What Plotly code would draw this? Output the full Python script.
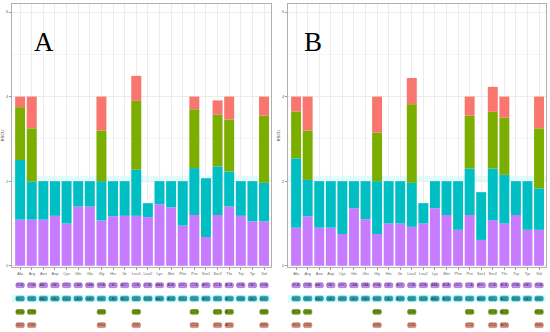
import plotly.graph_objects as go

categories = ["Ala", "Arg", "Asn", "Asp", "Cys", "Gln", "Glu", "Gly", "His", "Ile", "Leu1",
              "Leu2", "Lys", "Met", "Phe", "Pro", "Ser1", "Ser2", "Thr", "Trp", "Tyr", "Val"]

codon1 = ["GCA", "CGA", "AAC", "GAC", "UGC", "CAA", "GAA", "GGA", "CAC", "AUC", "CUA",
          "UUA", "AAA", "AUA", "UUC", "CCA", "AGC", "UCA", "ACA", "UGA", "UAC", "GUA"]
codon2 = ["GCC", "CGC", "AAU", "GAU", "UGU", "CAG", "GAG", "GGC", "CAU", "AUU", "CUC",
          "UUG", "AAG", "AUG", "UUU", "CCC", "AGU", "UCC", "ACC", "UGG", "UAU", "GUC"]
codon3 = ["GCG", "CGG", None, None, None, None, None, "GGG", None, None, "CUG",
          None, None, None, None, "CCG", None, "UCG", "ACG", None, None, "GUG"]
codon4 = ["GCU", "CGU", None, None, None, None, None, "GGU", None, None, "CUU",
          None, None, None, None, "CCU", None, "UCU", "ACU", None, None, "GUU"]

# Panel A RSCU values per codon position (stack order bottom -> top)
a_c1 = [1.09, 1.09, 1.09, 1.18, 1.00, 1.40, 1.40, 1.07, 1.17, 1.18, 1.18,
        1.15, 1.45, 1.38, 0.95, 1.20, 0.68, 1.20, 1.40, 1.18, 1.05, 1.05]
a_c2 = [1.41, 0.90, 0.91, 0.82, 1.00, 0.60, 0.60, 0.93, 0.83, 0.82, 1.09,
        0.33, 0.55, 0.62, 1.05, 1.11, 1.39, 1.15, 0.83, 0.82, 0.95, 0.91]
a_c3 = [1.25, 1.26, None, None, None, None, None, 1.20, None, None, 1.63,
        None, None, None, None, 1.39, None, 1.22, 1.23, None, None, 1.59]
a_c4 = [0.25, 0.75, None, None, None, None, None, 0.80, None, None, 0.59,
        None, None, None, None, 0.30, None, 0.34, 0.54, None, None, 0.45]

# Panel B
b_c1 = [0.90, 1.17, 0.90, 0.90, 0.75, 1.36, 1.10, 0.75, 1.00, 1.00, 0.92,
        1.00, 1.36, 1.20, 0.85, 1.20, 0.61, 1.08, 1.00, 1.20, 0.85, 0.85]
b_c2 = [1.64, 0.86, 1.10, 1.10, 1.25, 0.64, 0.90, 1.25, 1.00, 1.00, 1.04,
        0.48, 0.64, 0.80, 1.15, 1.10, 1.13, 1.22, 1.15, 0.80, 1.15, 0.98]
b_c3 = [1.11, 1.17, None, None, None, None, None, 1.15, None, None, 1.86,
        None, None, None, None, 1.25, None, 1.34, 1.35, None, None, 1.42]
b_c4 = [0.35, 0.80, None, None, None, None, None, 0.85, None, None, 0.62,
        None, None, None, None, 0.45, None, 0.59, 0.50, None, None, 0.75]

colors = ["#C77CFF", "#00BFC4", "#7CAE00", "#F8766D"]
edge = ["#9a5fcf", "#1b8c99", "#5a7f00", "#b8705f"]
box_fill = ["#C98AF5", "#27AFC0", "#74A010", "#E08A70"]

fig = go.Figure()

def add_panel(series, xa, ya, xc, yc):
    base = [0.0] * len(categories)
    for k, vals in enumerate(series):
        xs, ys, bs = [], [], []
        for i, v in enumerate(vals):
            if v is not None:
                xs.append(categories[i]); ys.append(v); bs.append(base[i])
                base[i] += v
        fig.add_trace(go.Bar(x=xs, y=ys, base=bs, width=0.86,
                             marker=dict(color=colors[k], line=dict(width=0)),
                             xaxis=xa, yaxis=ya, showlegend=False))
    codon_rows = [codon1, codon2, codon3, codon4]
    for k, row in enumerate(codon_rows):
        xs = [categories[i] for i, c in enumerate(row) if c is not None]
        tx = [c for c in row if c is not None]
        yv = 4 - k
        fig.add_trace(go.Bar(x=xs, y=[0.36] * len(xs), base=[yv - 0.18] * len(xs),
                             width=0.72, text=tx, textposition="inside",
                             insidetextanchor="middle", constraintext="none",
                             textfont=dict(size=3.2, color="#333333", family="Arial"),
                             marker=dict(color=box_fill[k], line=dict(color=edge[k], width=0.6),
                                         cornerradius=1.5),
                             xaxis=xc, yaxis=yc, showlegend=False))

add_panel([a_c1, a_c2, a_c3, a_c4], "x", "y", "x3", "y3")
add_panel([b_c1, b_c2, b_c3, b_c4], "x2", "y2", "x4", "y4")

xr = [-0.7, 21.6]
xbar = dict(type="category", range=xr, showline=True, mirror=True, linecolor="#b0b0b0",
            linewidth=1, showgrid=True, gridcolor="#ececec", gridwidth=0.6,
            ticks="outside", ticklen=2, tickcolor="#999999", tickangle=0, automargin=False,
            tickfont=dict(size=4, color="#666666", family="Arial"), categoryorder="array",
            categoryarray=categories, zeroline=False)
ybar = dict(range=[-0.03, 6.19], dtick=2, showline=True, mirror=True, linecolor="#b0b0b0",
            linewidth=1, showgrid=True, gridcolor="#ececec", gridwidth=0.6,
            minor=dict(dtick=1, showgrid=True, gridcolor="#f5f5f5", gridwidth=0.4),
            ticks="outside", ticklen=2, tickcolor="#999999", automargin=False,
            tickfont=dict(size=4, color="#666666", family="Arial"), zeroline=False,
            title=dict(text="RSCU", font=dict(size=4, color="#444444", family="Arial"), standoff=1))
xcod = dict(type="category", range=xr, visible=False, categoryorder="array",
            categoryarray=categories, automargin=False)
ycod = dict(range=[0.49, 4.48], visible=False, automargin=False)

dA = [12 / 550, 271 / 550]
dB = [288 / 550, 546 / 550]
ybd = [(332 - 267) / 332, (332 - 4) / 332]
ycd = [0, 0.16]

fig.update_layout(
    width=550, height=332, margin=dict(l=0, r=0, t=0, b=0, autoexpand=False),
    paper_bgcolor="white", plot_bgcolor="white", barmode="overlay",
    xaxis=dict(xbar, domain=dA, anchor="y"),
    yaxis=dict(ybar, domain=ybd, anchor="x"),
    xaxis2=dict(xbar, domain=dB, anchor="y2"),
    yaxis2=dict(ybar, domain=ybd, anchor="x2"),
    xaxis3=dict(xcod, domain=dA, anchor="y3"),
    yaxis3=dict(ycod, domain=ycd, anchor="x3"),
    xaxis4=dict(xcod, domain=dB, anchor="y4"),
    yaxis4=dict(ycod, domain=ycd, anchor="x4"),
    annotations=[
        dict(text="A", x=32 / 550, y=(332 - 25) / 332, xref="paper", yref="paper",
             showarrow=False, font=dict(size=27, family="Liberation Serif", color="black")),
        dict(text="B", x=313 / 550, y=(332 - 25) / 332, xref="paper", yref="paper",
             showarrow=False, font=dict(size=27, family="Liberation Serif", color="black")),
    ],
    shapes=[
        dict(type="rect", xref="x domain", yref="y", x0=0, x1=1, y0=2.0, y1=2.13,
             fillcolor="#e4fbfb", line=dict(width=0), layer="below"),
        dict(type="rect", xref="x2 domain", yref="y2", x0=0, x1=1, y0=2.0, y1=2.13,
             fillcolor="#e4fbfb", line=dict(width=0), layer="below"),
        dict(type="rect", xref="x3 domain", yref="y3", x0=0, x1=1, y0=2.72, y1=3.28,
             fillcolor="#d8fbfb", line=dict(width=0), layer="below"),
        dict(type="rect", xref="x4 domain", yref="y4", x0=0, x1=1, y0=2.72, y1=3.28,
             fillcolor="#d8fbfb", line=dict(width=0), layer="below"),
    ],
)

fig.write_html("out.html", config={"displayModeBar": False},
               post_script="document.body.style.margin='0';document.body.style.overflow='hidden';")
